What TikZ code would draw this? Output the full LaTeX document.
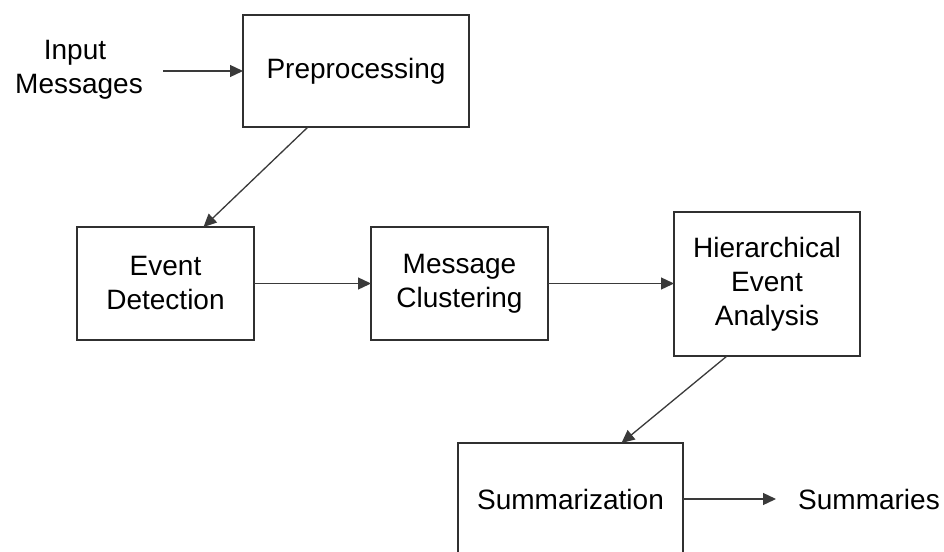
\documentclass[tikz,border=0pt]{standalone}
\usepackage{fontspec}
\setmainfont{Liberation Sans}
\usetikzlibrary{arrows.meta}
\definecolor{boxline}{HTML}{303030}
\definecolor{flowline}{HTML}{3A3A3A}
\tikzset{
  stage/.style={draw=boxline, line width=2.8pt, inner sep=0pt, outer sep=0pt,
    align=center, font=\fontsize{28}{34}\selectfont, text=black},
  label/.style={inner sep=0pt, align=center, font=\fontsize{28}{34}\selectfont, text=black},
  flow/.style={draw=flowline, line width=1.3pt,
    -{Triangle[length=13pt,width=12pt]}}
}
\begin{document}
\begin{tikzpicture}[x=1pt,y=-1pt]
\useasboundingbox (0,0) rectangle (944,551);
\clip (0,0) rectangle (944,551);
\fill[white] (0,0) rectangle (944,551);

% processing stages
\node[stage, minimum width=226pt, minimum height=112pt] (pre) at (356,71) {Preprocessing};
\node[stage, minimum width=177pt, minimum height=113pt] (ed) at (165.5,283.5) {Event\\Detection};
\node[stage, minimum width=177pt, minimum height=113pt] (mc) at (459.5,283.5) {Message\\Clustering};
\node[stage, minimum width=186pt, minimum height=144pt] (hea) at (767,284) {Hierarchical\\Event\\Analysis};
\node[stage, minimum width=225pt, minimum height=112pt] (sum) at (570.5,499) {Summarization};

% input and output texts
\node[label] (inp) at (79,70) {\hspace*{-8pt}Input\\Messages};
\node[label, anchor=west] (out) at (798,499) {Summaries};

% connectors
\draw[flow] ([xshift=20pt]inp.east |- pre.west) -- (pre.west);
\draw[flow] ([xshift=-48pt]pre.south) -- ([xshift=38pt]ed.north);
\draw[flow] (ed.east) -- (mc.west);
\draw[flow] (mc.east) -- (mc.east -| hea.west);
\draw[flow] ([xshift=-40pt]hea.south) -- ([xshift=51pt]sum.north);
\draw[flow] (sum.east) -- ([xshift=-22pt]out.west);
\end{tikzpicture}
\end{document}
